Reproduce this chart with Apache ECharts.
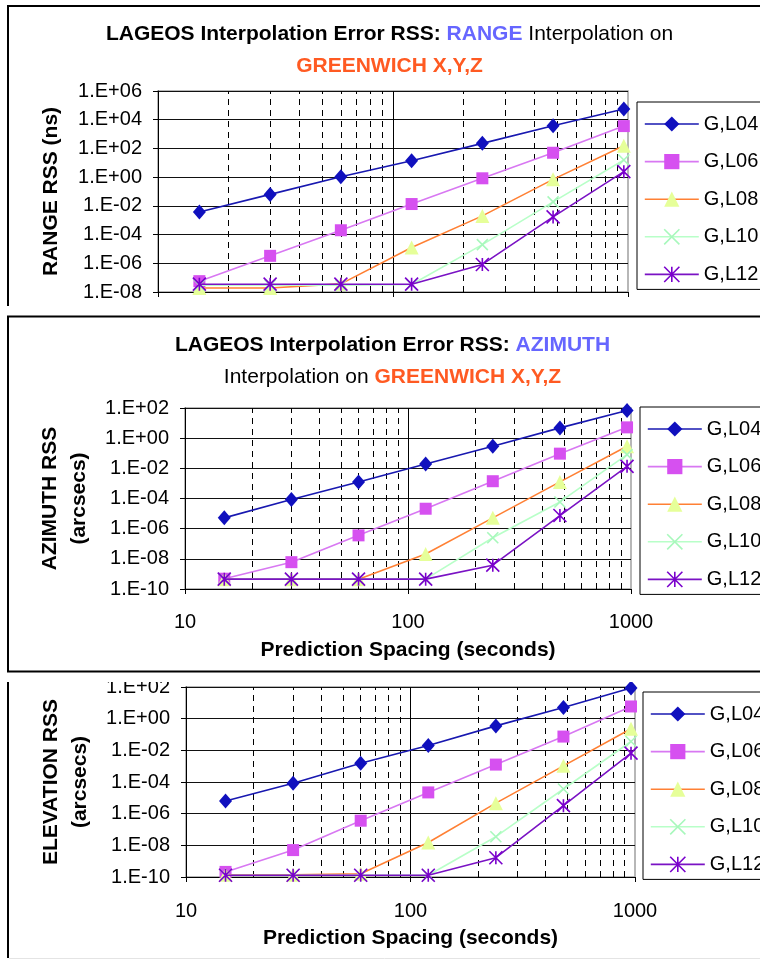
<!DOCTYPE html>
<html><head><meta charset="utf-8">
<script src="https://cdn.jsdelivr.net/npm/echarts@6/dist/echarts.min.js"></script>
<style>html,body{margin:0;padding:0;background:#fff}#c{width:760px;height:960px}</style>
</head><body><div id="c"></div>
<script>
// ---- data ----
const spacing = [15, 30, 60, 120, 240, 480, 960];
const seriesNames = ['G,L04', 'G,L06', 'G,L08', 'G,L10', 'G,L12'];

const rangeL04 = [3.7e-3, 0.063, 1.07, 14, 225, 3800, 56000];
const rangeL06 = [5.7e-8, 3.3e-6, 2.0e-4, 0.0134, 0.83, 50, 3600];
const rangeL08 = [1.9e-8, 1.9e-8, 3.7e-8, 1.26e-5, 2.0e-3, 0.7, 155];
const rangeL10 = [3.0e-8, 3.0e-8, 3.0e-8, 3.3e-8, 2.0e-5, 0.019, 15.5];
const rangeL12 = [3.5e-8, 3.5e-8, 3.5e-8, 3.5e-8, 8.3e-7, 1.7e-3, 2.4];

const azimL04 = [5.2e-6, 8.5e-5, 1.26e-3, 0.0195, 0.29, 4.8, 69];
const azimL06 = [4.8e-10, 6.0e-9, 3.6e-7, 2.1e-5, 1.4e-3, 0.094, 5.2];
const azimL08 = [4.5e-10, 4.5e-10, 4.5e-10, 2.1e-8, 5.2e-6, 1.26e-3, 0.29];
const azimL10 = [4.5e-10, 4.5e-10, 4.5e-10, 4.5e-10, 2.5e-7, 5.9e-5, 0.081];
const azimL12 = [4.5e-10, 4.5e-10, 4.5e-10, 4.5e-10, 3.8e-9, 7.4e-6, 0.0135];

const elevL04 = [6.3e-6, 8.3e-5, 1.55e-3, 0.02, 0.35, 5.1, 87];
const elevL06 = [2.1e-10, 5.0e-9, 3.6e-7, 2.2e-5, 1.26e-3, 0.074, 5.9];
const elevL08 = [1.4e-10, 1.4e-10, 1.6e-10, 1.5e-8, 4.6e-6, 1.05e-3, 0.23];
const elevL10 = [1.3e-10, 1.3e-10, 1.3e-10, 1.3e-10, 3.5e-8, 3.6e-5, 0.036];
const elevL12 = [1.3e-10, 1.3e-10, 1.3e-10, 1.3e-10, 1.65e-9, 3.2e-6, 6.6e-3];

const rangeTicks = ['1.E-08', '1.E-06', '1.E-04', '1.E-02', '1.E+00', '1.E+02', '1.E+04', '1.E+06'];
const angleTicks = ['1.E-10', '1.E-08', '1.E-06', '1.E-04', '1.E-02', '1.E+00', '1.E+02'];
const xTickLabels = ['10', '100', '1000'];
const minorX = [20, 30, 40, 50, 60, 70, 80, 90, 200, 300, 400, 500, 600, 700, 800, 900];
const majorX = [100];

// ---- styles ----
const FONT = 'Arial, "Liberation Sans", sans-serif';
const xPath = 'path://M0,0L10,10M10,0L0,10';
const starPath = 'path://M0,0L10,10M10,0L0,10M5,0L5,10';
const styles = [
  { symbol: 'diamond', size: [13, 15], line: '#1818B0', fill: '#1010BE' },
  { symbol: 'rect', size: 12, line: '#D878F2', fill: '#D650F0' },
  { symbol: 'triangle', size: 14, line: '#FF8034', fill: '#E6FF99' },
  { symbol: xPath, size: 11, line: '#B8FFC8', stroke: '#A8F8BC' },
  { symbol: starPath, size: 13, line: '#7A12C4', stroke: '#7A00CC' }
];

const panels = [
  { vals: [rangeL04, rangeL06, rangeL08, rangeL10, rangeL12], ticks: rangeTicks, minExp: -8, maxExp: 6,
    grid: { left: 158, top: 91, width: 470, height: 201 }, yName: 'RANGE RSS (ns)', xLabels: false,
    yGap: 92, legend: { left: 637, top: 102 } },
  { vals: [azimL04, azimL06, azimL08, azimL10, azimL12], ticks: angleTicks, minExp: -10, maxExp: 2,
    grid: { left: 185, top: 408, width: 446, height: 181 }, yName: 'AZIMUTH RSS\n(arcsecs)', xLabels: true,
    yGap: 91, labelMargin: 23, nameGap: 51, legend: { left: 640, top: 407 } },
  { vals: [elevL04, elevL06, elevL08, elevL10, elevL12], ticks: angleTicks, minExp: -10, maxExp: 2,
    grid: { left: 186, top: 687, width: 449, height: 190 }, yName: 'ELEVATION RSS\n(arcsecs)', xLabels: true,
    yGap: 91, labelMargin: 24, nameGap: 51, legend: { left: 643, top: 692 } }
];

function itemStyleFor(s) {
  return s.fill ? { color: s.fill, borderWidth: 0 }
                : { color: 'rgba(0,0,0,0)', borderColor: s.stroke, borderWidth: 1.6 };
}

const grids = [], xAxes = [], yAxes = [], series = [], legends = [];
panels.forEach((p, pi) => {
  grids.push(Object.assign({ show: true, backgroundColor: '#fff', borderColor: '#A0A0A0', borderWidth: 1.5 }, p.grid));
  xAxes.push({
    type: 'log', logBase: 10, min: 10, max: 1000, interval: 1, gridIndex: pi,
    axisLine: { show: true, lineStyle: { color: '#000', width: 1 } },
    axisTick: { show: true, inside: false, length: 5, lineStyle: { color: '#000' } },
    splitLine: { show: false },
    axisLabel: {
      show: p.xLabels, margin: p.labelMargin || 20, fontSize: 20, color: '#000', fontFamily: FONT,
      formatter: v => xTickLabels[Math.round(Math.log10(v)) - 1]
    },
    name: p.xLabels ? 'Prediction Spacing (seconds)' : '', nameLocation: 'middle', nameGap: p.nameGap || 40,
    nameTextStyle: { fontSize: 21, fontWeight: 'bold', color: '#000', fontFamily: FONT }
  });
  yAxes.push({
    type: 'log', logBase: 10, min: Math.pow(10, p.minExp), max: Math.pow(10, p.maxExp), interval: 2, gridIndex: pi,
    axisLine: { show: true, lineStyle: { color: '#000', width: 1 } },
    axisTick: { show: true, inside: false, length: 5, lineStyle: { color: '#000' } },
    splitLine: { show: true, lineStyle: { color: '#111', width: 1 } },
    axisLabel: {
      margin: 16, fontSize: 20, color: '#000', fontFamily: FONT,
      formatter: v => p.ticks[Math.round((Math.log10(v) - p.minExp) / 2)]
    },
    name: p.yName, nameLocation: 'middle', nameRotate: 90, nameGap: p.yGap,
    nameTextStyle: { fontSize: 21, fontWeight: 'bold', color: '#000', fontFamily: FONT, lineHeight: 29, align: 'center' }
  });
  p.vals.forEach((vals, i) => {
    const s = styles[i];
    const ser = {
      type: 'line', name: seriesNames[i], xAxisIndex: pi, yAxisIndex: pi,
      data: spacing.map((x, k) => [x, vals[k]]),
      symbol: s.symbol, symbolSize: s.size, symbolKeepAspect: false,
      lineStyle: { color: s.line, width: 1.6 },
      itemStyle: itemStyleFor(s),
      emphasis: { disabled: true }, z: 3 + i, animation: false, clip: false
    };
    if (i === 0) {
      ser.markLine = {
        silent: true, symbol: ['none', 'none'], label: { show: false }, z: 1, animation: false,
        emphasis: { disabled: true },
        data: minorX.map(v => ({ xAxis: v, lineStyle: { type: [6, 5], color: '#000', width: 1 } }))
          .concat(majorX.map(v => ({ xAxis: v, lineStyle: { type: 'solid', color: '#000', width: 1 } })))
      };
    }
    series.push(ser);
  });
  legends.push({
    orient: 'vertical', left: p.legend.left, top: p.legend.top,
    padding: [12, 80, 5, 7], itemGap: 17.6, itemWidth: 54, itemHeight: 19,
    borderColor: '#000', borderWidth: 1, backgroundColor: '#fff',
    selectedMode: false,
    textStyle: { fontSize: 20, color: '#000', fontFamily: FONT, lineHeight: 20 },
    data: seriesNames.map((n, i) => ({
      name: n,
      itemStyle: itemStyleFor(styles[i]),
      lineStyle: { color: styles[i].line, width: 1.6 }
    }))
  });
});

const richT = {
  b: { fontSize: 21, fontWeight: 'bold', fill: '#000', fontFamily: FONT },
  blue: { fontSize: 21, fontWeight: 'bold', fill: '#6666FF', fontFamily: FONT },
  n: { fontSize: 21, fontWeight: 'normal', fill: '#000', fontFamily: FONT },
  o: { fontSize: 21, fontWeight: 'bold', fill: '#FF5A22', fontFamily: FONT }
};
function titleText(x, y, text) {
  return { type: 'text', x: x, y: y, z: 10, silent: true,
    style: { text: text, rich: richT, align: 'center', verticalAlign: 'middle', fontSize: 21, fontFamily: FONT } };
}

const graphics = [
  // gap between panel 2 and the cropped top of panel 3
  { type: 'rect', silent: true, z: 9, shape: { x: 0, y: 672.5, width: 760, height: 9.5 }, style: { fill: '#fff' } },
  // panel borders
  { type: 'polyline', silent: true, z: 10, shape: { points: [[8, 306], [8, 6], [780, 6]] }, style: { stroke: '#000', lineWidth: 2, fill: null } },
  { type: 'rect', silent: true, z: 10, shape: { x: 8, y: 316.5, width: 780, height: 355 }, style: { stroke: '#000', lineWidth: 2, fill: null } },
  { type: 'polyline', silent: true, z: 10, shape: { points: [[8, 682], [8, 958]] }, style: { stroke: '#000', lineWidth: 2, fill: null } },
  { type: 'line', silent: true, z: 10, shape: { x1: 9, y1: 958.5, x2: 760, y2: 958.5 }, style: { stroke: '#E4E4E4', lineWidth: 1 } },
  titleText(389.5, 34, '{b|LAGEOS Interpolation Error RSS: }{blue|RANGE}{n| Interpolation on}'),
  titleText(389.5, 66, '{o|GREENWICH X,Y,Z}'),
  titleText(392.5, 345, '{b|LAGEOS Interpolation Error RSS: }{blue|AZIMUTH}'),
  titleText(392.5, 377, '{n|Interpolation on }{o|GREENWICH X,Y,Z}')
];

const chart = echarts.init(document.getElementById('c'), null, { renderer: 'canvas' });
chart.setOption({
  backgroundColor: '#fff',
  animation: false,
  grid: grids, xAxis: xAxes, yAxis: yAxes, series: series, legend: legends,
  graphic: graphics
});
</script>
</body></html>
